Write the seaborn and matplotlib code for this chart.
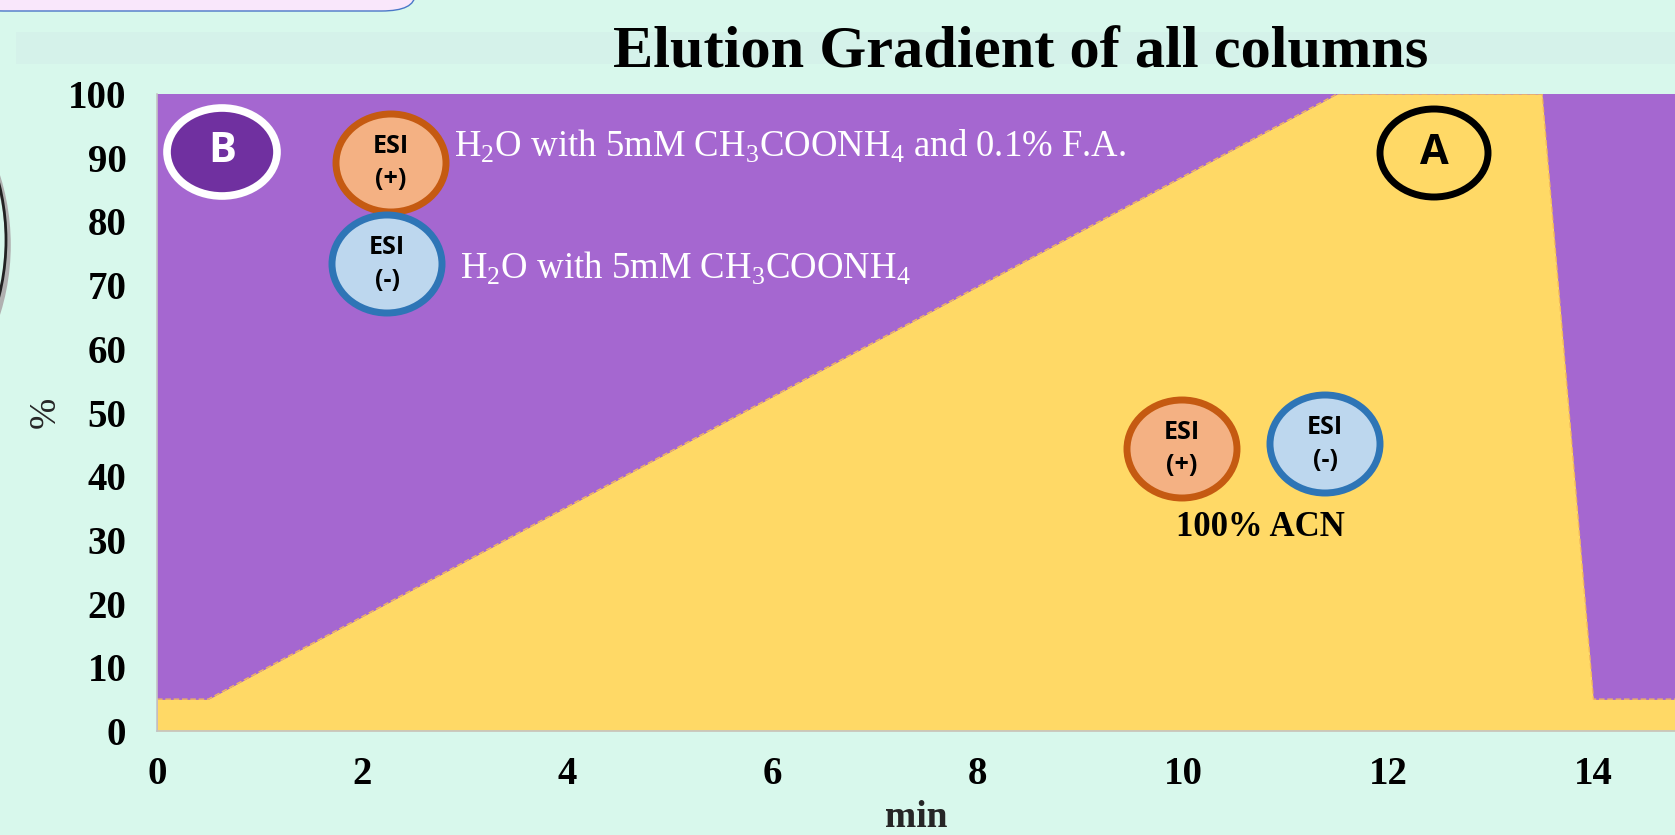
import matplotlib.pyplot as plt
import seaborn as sns
import pandas as pd
from matplotlib.patches import Ellipse, Rectangle, FancyBboxPatch

# gradient program: time (min) vs % of the yellow (A) phase
time_min = [0, 0.5, 11.5, 13.5, 14, 15]
pct_a = [5, 5, 100, 100, 5, 5]
x_ticks = [0, 2, 4, 6, 8, 10, 12, 14]
y_ticks = [0, 10, 20, 30, 40, 50, 60, 70, 80, 90, 100]

df = pd.DataFrame({"min": time_min, "pct": pct_a})

W, H = 1675, 835
BG = "#D8F8EC"
PURPLE = "#A567D0"
YELLOW = "#FFD966"

sns.set_style("white")
plt.rcParams["font.family"] = ["Liberation Serif", "DejaVu Serif"]
plt.rcParams["mathtext.fontset"] = "custom"
plt.rcParams["mathtext.rm"] = "Liberation Serif"

fig = plt.figure(figsize=(W / 100, H / 100), dpi=100, facecolor=BG)
ax = fig.add_axes([157 / W, 1 - 731 / H, 1 - 157 / W, (731 - 94) / H])
ax.set_facecolor(PURPLE)

# fills
ax.fill_between(df["min"], 0, df["pct"], color=YELLOW, lw=0, zorder=1)
ax.fill_between(df["min"], df["pct"], 100, color=PURPLE, lw=0, zorder=1)
sns.lineplot(data=df, x="min", y="pct", ax=ax, color="#F2B85C", lw=1,
             linestyle=(0, (4, 2)), zorder=2)

ax.set_xlim(0, (W - 157) / 102.6)
ax.set_ylim(0, 100)
ax.set_xticks(x_ticks)
ax.set_yticks(y_ticks)
ax.tick_params(axis="both", length=0, labelsize=28, colors="black")
ax.tick_params(axis="y", pad=22)
ax.tick_params(axis="x", pad=18)
for lab in ax.get_xticklabels() + ax.get_yticklabels():
    lab.set_fontweight("bold")
ax.set_xlabel("min", fontsize=27, fontweight="bold", labelpad=5)
ax.set_ylabel("%", fontsize=27)
ax.yaxis.set_label_coords((63 - 157) / (W - 157), 0.5)
for s in ["top", "right"]:
    ax.spines[s].set_visible(False)
for s in ["left", "bottom"]:
    ax.spines[s].set_color("#C4C4C4")
    ax.spines[s].set_linewidth(1.2)

fig.text(1021 / W, 1 - 53 / H, "Elution Gradient of all columns",
         ha="center", va="center", fontsize=43.5, fontweight="bold", color="black")


def fx(x):
    return x / W


def fy(y):
    return 1 - y / H


def ellipse(cx, cy, w, h, face, edge, lw):
    e = Ellipse((fx(cx), fy(cy)), w / W, h / H, transform=fig.transFigure,
                facecolor=face, edgecolor=edge, lw=lw, zorder=5)
    fig.add_artist(e)


# slide decoration
fig.add_artist(Rectangle((16 / W, fy(64)), 1, 32 / H, transform=fig.transFigure,
                         facecolor="#D5F2EA", edgecolor="none", zorder=0))
fig.add_artist(FancyBboxPatch((-30 / W, fy(11)), 445 / W, 60 / H,
                              boxstyle="round,pad=0,rounding_size=0.02",
                              transform=fig.transFigure, facecolor="#F9E7FB",
                              edgecolor="#4A78C8", lw=1, zorder=0))
fig.add_artist(Ellipse((fx(-222), fy(245)), 460 / W, 460 / H, transform=fig.transFigure,
                       facecolor="none", edgecolor="#B0B0B0", lw=4, zorder=0))
fig.add_artist(Ellipse((fx(-224), fy(240)), 460 / W, 460 / H, transform=fig.transFigure,
                       facecolor="none", edgecolor="#222222", lw=2, zorder=0))

# B badge
ellipse(222, 152, 110, 88, "#7030A0", "white", 5.5)
fig.text(fx(222), fy(152), "B", ha="center", va="center", color="white",
         fontsize=30, fontweight="bold", family="Open Sans", zorder=6)
# A badge
ellipse(1434, 153, 108, 88, "none", "black", 5)
fig.text(fx(1434), fy(153), "A", ha="center", va="center", color="black",
         fontsize=30, fontweight="bold", family="Open Sans", zorder=6)

esi_pos = [(391, 163, "#F4B183", "#C55A11", "ESI\n(+)"),
           (387, 264, "#BDD7EE", "#2E75B6", "ESI\n(-)"),
           (1182, 449, "#F4B183", "#C55A11", "ESI\n(+)"),
           (1325, 444, "#BDD7EE", "#2E75B6", "ESI\n(-)")]
for cx, cy, face, edge, lab in esi_pos:
    ellipse(cx, cy, 110, 98, face, edge, 5)
    fig.text(fx(cx), fy(cy), lab, ha="center", va="center", color="black",
             fontsize=18, fontweight="bold", family="Open Sans",
             linespacing=1.45, zorder=6)

fig.text(fx(454), fy(146),
         r"H$_\mathrm{2}$O with 5mM CH$_\mathrm{3}$COONH$_\mathrm{4}$ and 0.1% F.A.",
         ha="left", va="center", color="white", fontsize=26.5, zorder=6)
fig.text(fx(460), fy(268),
         r"H$_\mathrm{2}$O with 5mM CH$_\mathrm{3}$COONH$_\mathrm{4}$",
         ha="left", va="center", color="white", fontsize=26.5, zorder=6)
fig.text(fx(1260), fy(527), "100% ACN", ha="center", va="center",
         color="black", fontsize=25, fontweight="bold", zorder=6)

fig.savefig("out.png", dpi=100, facecolor=BG)
